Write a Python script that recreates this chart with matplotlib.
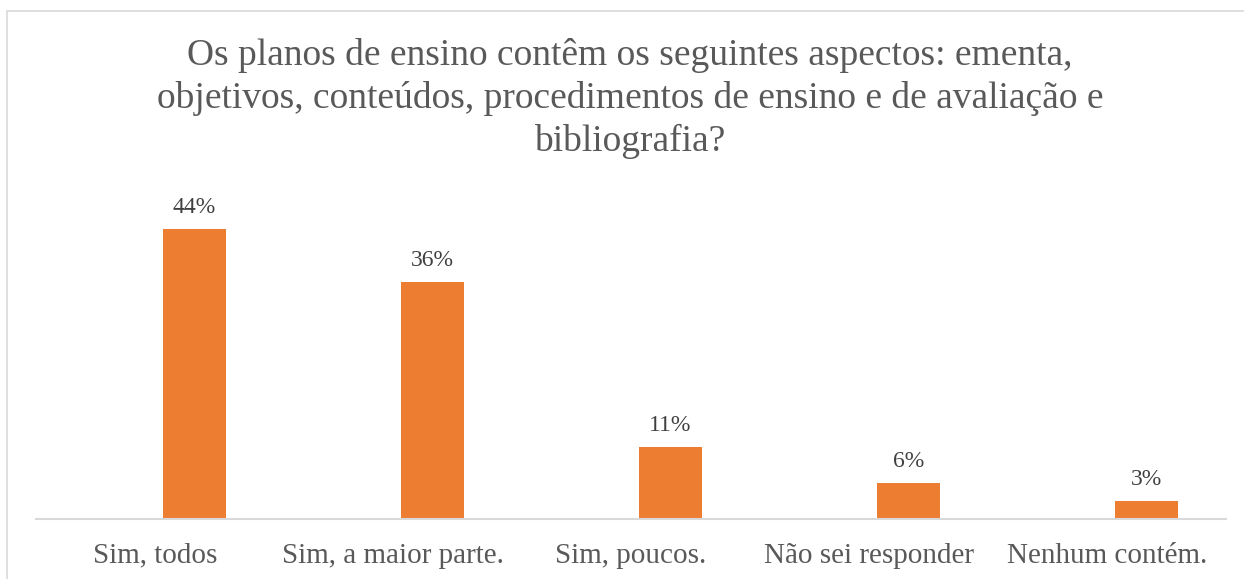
import matplotlib
matplotlib.use("Agg")
import matplotlib.pyplot as plt
from matplotlib.patches import Rectangle

categories = ["Sim, todos", "Sim, a maior parte.", "Sim, poucos.", "Não sei responder", "Nenhum contém."]
values = [44, 36, 11, 5.5, 2.7]
labels = ["44%", "36%", "11%", "6%", "3%"]
title = ("Os planos de ensino contêm os seguintes aspectos: ementa,\n"
         "objetivos, conteúdos, procedimentos de ensino e de avaliação e\n"
         "bibliografia?")

W, H = 1244, 579
fig = plt.figure(figsize=(W / 100, H / 100), dpi=100)
fig.patch.set_facecolor("white")
plt.rcParams['font.family'] = ['Liberation Serif', 'DejaVu Serif']

txt = "#595959"
ax = fig.add_axes([36 / W, 1 - 519 / H, (1226 - 36) / W, (519 - 190) / H])
x = list(range(len(categories)))
xb = [i + 0.166 for i in x]
bars = ax.bar(xb, values, width=0.265, color="#ED7D31")
ax.set_xlim(-0.5, len(categories) - 0.5)
ax.set_ylim(0, 50)
for s in ["top", "right", "left"]:
    ax.spines[s].set_visible(False)
ax.spines["bottom"].set_color("#D9D9D9")
ax.spines["bottom"].set_linewidth(1.5)
ax.set_yticks([])
ax.set_xticks(x)
ax.set_xticklabels(categories, fontsize=21, color=txt)
ax.tick_params(axis="x", length=0, pad=17)
for b, lab in zip(bars, labels):
    ax.annotate(lab, (b.get_x() + b.get_width() / 2, b.get_height()),
                xytext=(0, 8), textcoords="offset points",
                ha="center", va="bottom", fontsize=17, color="#404040")

fig.text(630 / W, 1 - 38 / H, title, ha="center", va="top", fontsize=27,
         color=txt, linespacing=1.3)

fig.patches.append(Rectangle((7 / W, -0.05), 1.1, 1.05 - 11 / H,
                             transform=fig.transFigure, fill=False,
                             edgecolor="#D9D9D9", linewidth=1.2))

fig.savefig("out.png", dpi=100, facecolor="white")
